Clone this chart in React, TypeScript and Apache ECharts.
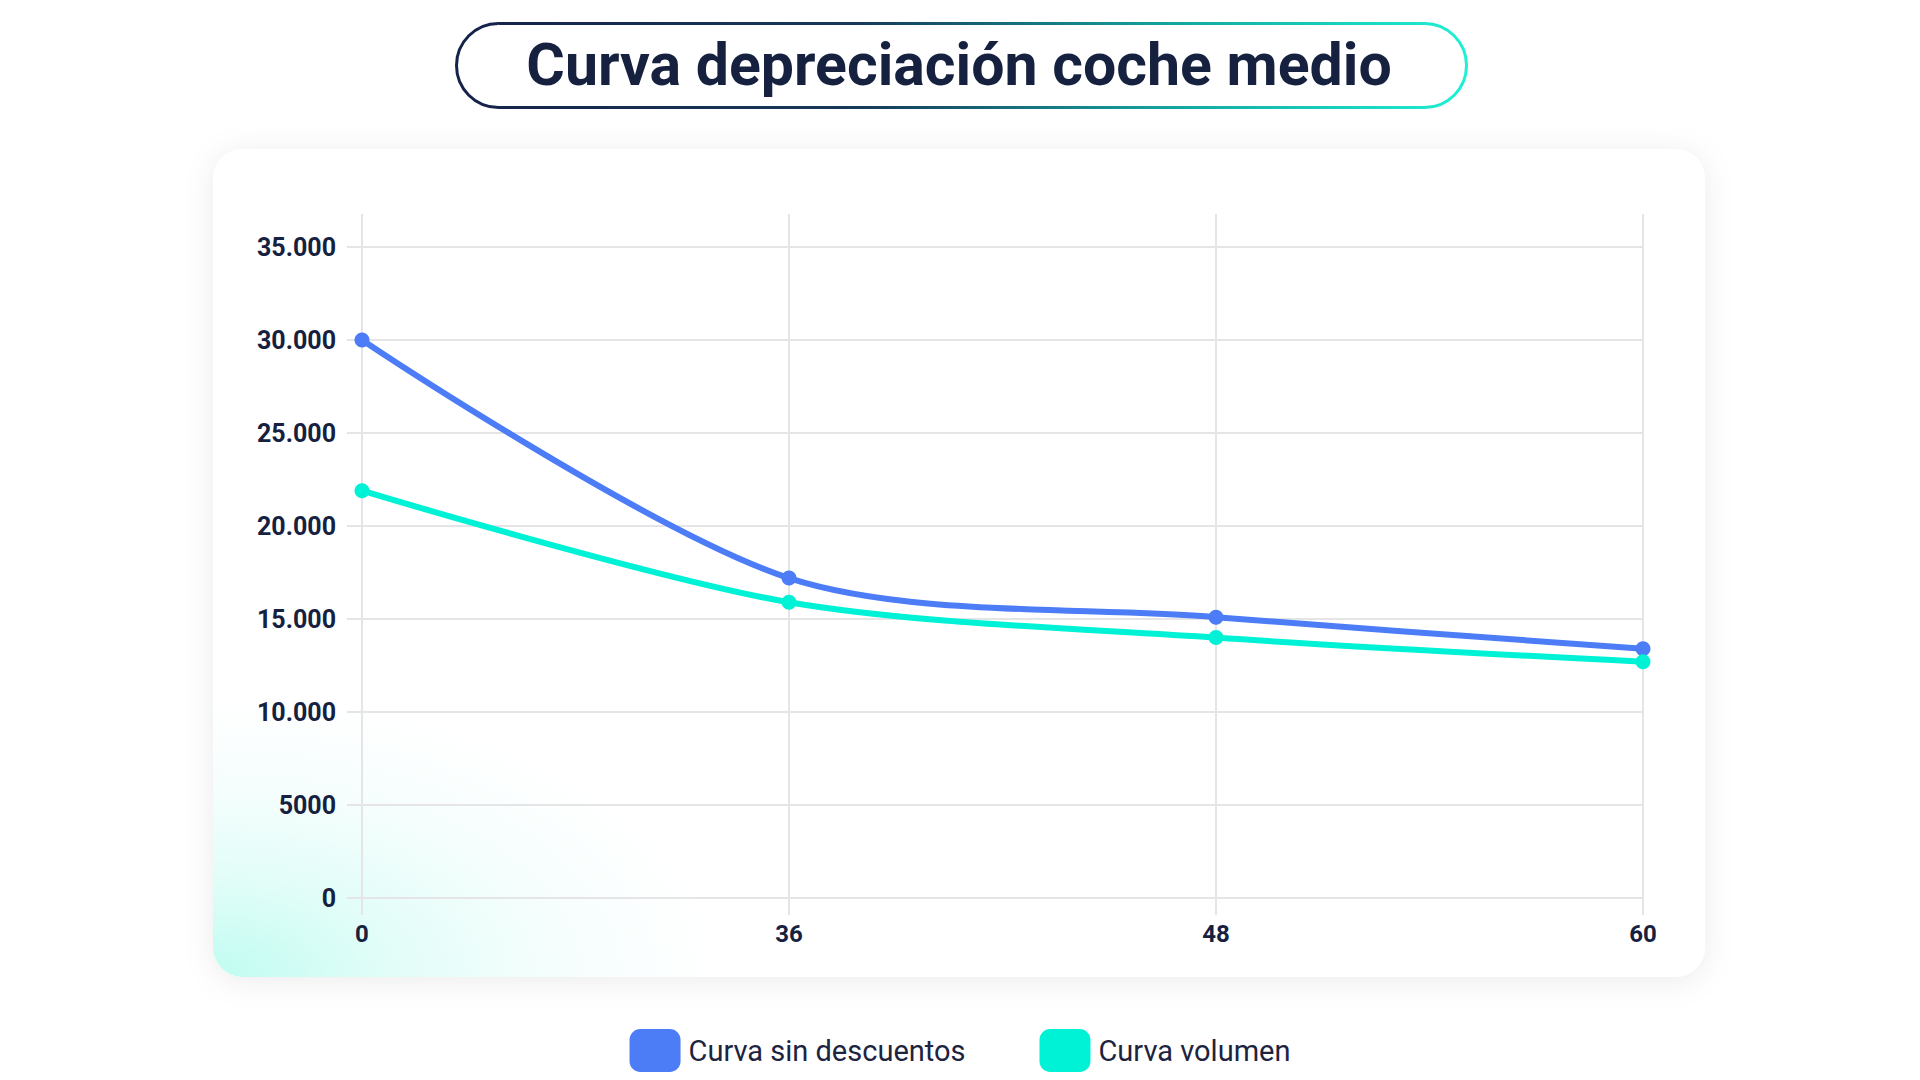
import React, { useEffect, useRef } from "react";
import * as echarts from "echarts";

const titleText = "Curva depreciación coche medio";
const months = ["0", "36", "48", "60"];
const seriesNames = ["Curva sin descuentos", "Curva volumen"];
const sinDescuentos = [30000, 17200, 15100, 13400];
const volumen = [21900, 15900, 14000, 12700];
const yTickLabels = ["0", "5000", "10.000", "15.000", "20.000", "25.000", "30.000", "35.000"];

const BLUE = "#4c7cf6";
const CYAN = "#00f2d6";
const NAVY = "#16213f";
const GRID = "#e5e5e8";

export default function App() {
  const ref = useRef<HTMLDivElement>(null);

  useEffect(() => {
    const chart = echarts.init(ref.current as HTMLDivElement, null, { renderer: "svg" });
    const option = {
      animation: false,
      backgroundColor: "#ffffff",
      graphic: [
        {
          type: "rect",
          z: -10,
          shape: { x: 213, y: 149, width: 1492, height: 828, r: 30 },
          style: {
            fill: new echarts.graphic.RadialGradient(0, 1, 0.34, [
              { offset: 0, color: "#bffcf1" },
              { offset: 0.35, color: "#e2fdf8" },
              { offset: 0.7, color: "#f6fefd" },
              { offset: 1, color: "#ffffff" },
            ]),
            shadowBlur: 30,
            shadowColor: "rgba(0,0,0,0.08)",
            shadowOffsetY: 4,
          },
        },
        {
          type: "rect",
          z: -5,
          shape: { x: 456.5, y: 23.5, width: 1010, height: 84, r: 42 },
          style: {
            fill: "#ffffff",
            lineWidth: 3,
            stroke: new echarts.graphic.LinearGradient(0, 0, 1, 0, [
              { offset: 0, color: "#15224a" },
              { offset: 0.4, color: "#173a5a" },
              { offset: 0.72, color: "#13a9a2" },
              { offset: 1, color: "#1ef0d4" },
            ]),
          },
        },
        {
          type: "text",
          z: 10,
          x: 959,
          y: 64,
          style: {
            text: titleText,
            fill: NAVY,
            font: "bold 59px Roboto",
            align: "center",
            verticalAlign: "middle",
          },
        },
      ],
      legend: {
        left: "center",
        top: 1024,
        itemWidth: 51,
        itemHeight: 43,
        itemGap: 74,
        icon: "roundRect",
        textStyle: { fontFamily: "Roboto", fontSize: 29, color: "#1d2440", padding: [0, 0, 0, 3] },
        data: seriesNames,
      },
      grid: { left: 362, right: 277, top: 247, bottom: 182 },
      xAxis: [
        {
          type: "category",
          data: months,
          boundaryGap: false,
          axisLine: { show: false },
          axisTick: { show: true, alignWithLabel: true, length: 17, lineStyle: { color: GRID, width: 2 } },
          axisLabel: { margin: 24, fontFamily: "Roboto", fontWeight: "bold", fontSize: 24, color: NAVY },
          splitLine: { show: true, lineStyle: { color: GRID, width: 2 } },
        },
        {
          type: "category",
          data: months,
          position: "top",
          boundaryGap: false,
          axisLine: { show: false },
          axisTick: { show: true, alignWithLabel: true, length: 33, lineStyle: { color: GRID, width: 2 } },
          axisLabel: { show: false },
          splitLine: { show: false },
        },
      ],
      yAxis: {
        type: "value",
        min: 0,
        max: 35000,
        interval: 5000,
        axisLine: { show: false },
        axisTick: { show: true, length: 15, lineStyle: { color: GRID, width: 2 } },
        axisLabel: {
          margin: 26,
          fontFamily: "Roboto",
          fontWeight: "bold",
          fontSize: 25,
          color: NAVY,
          formatter: (v: number) => yTickLabels[Math.round(v / 5000)] ?? "",
        },
        splitLine: { show: true, lineStyle: { color: GRID, width: 2 } },
      },
      series: [
        {
          name: seriesNames[0],
          type: "line",
          data: sinDescuentos,
          smooth: 0.3,
          symbol: "circle",
          symbolSize: 15,
          itemStyle: { color: BLUE },
          lineStyle: { color: BLUE, width: 6 },
        },
        {
          name: seriesNames[1],
          type: "line",
          data: volumen,
          smooth: 0.3,
          symbol: "circle",
          symbolSize: 15,
          itemStyle: { color: CYAN },
          lineStyle: { color: CYAN, width: 6 },
        },
      ],
    };
    chart.setOption(option as any);
    return () => chart.dispose();
  }, []);

  return (
    <div
      ref={ref}
      style={{ position: "fixed", left: 0, top: 0, width: 1920, height: 1080, background: "#ffffff" }}
    />
  );
}
